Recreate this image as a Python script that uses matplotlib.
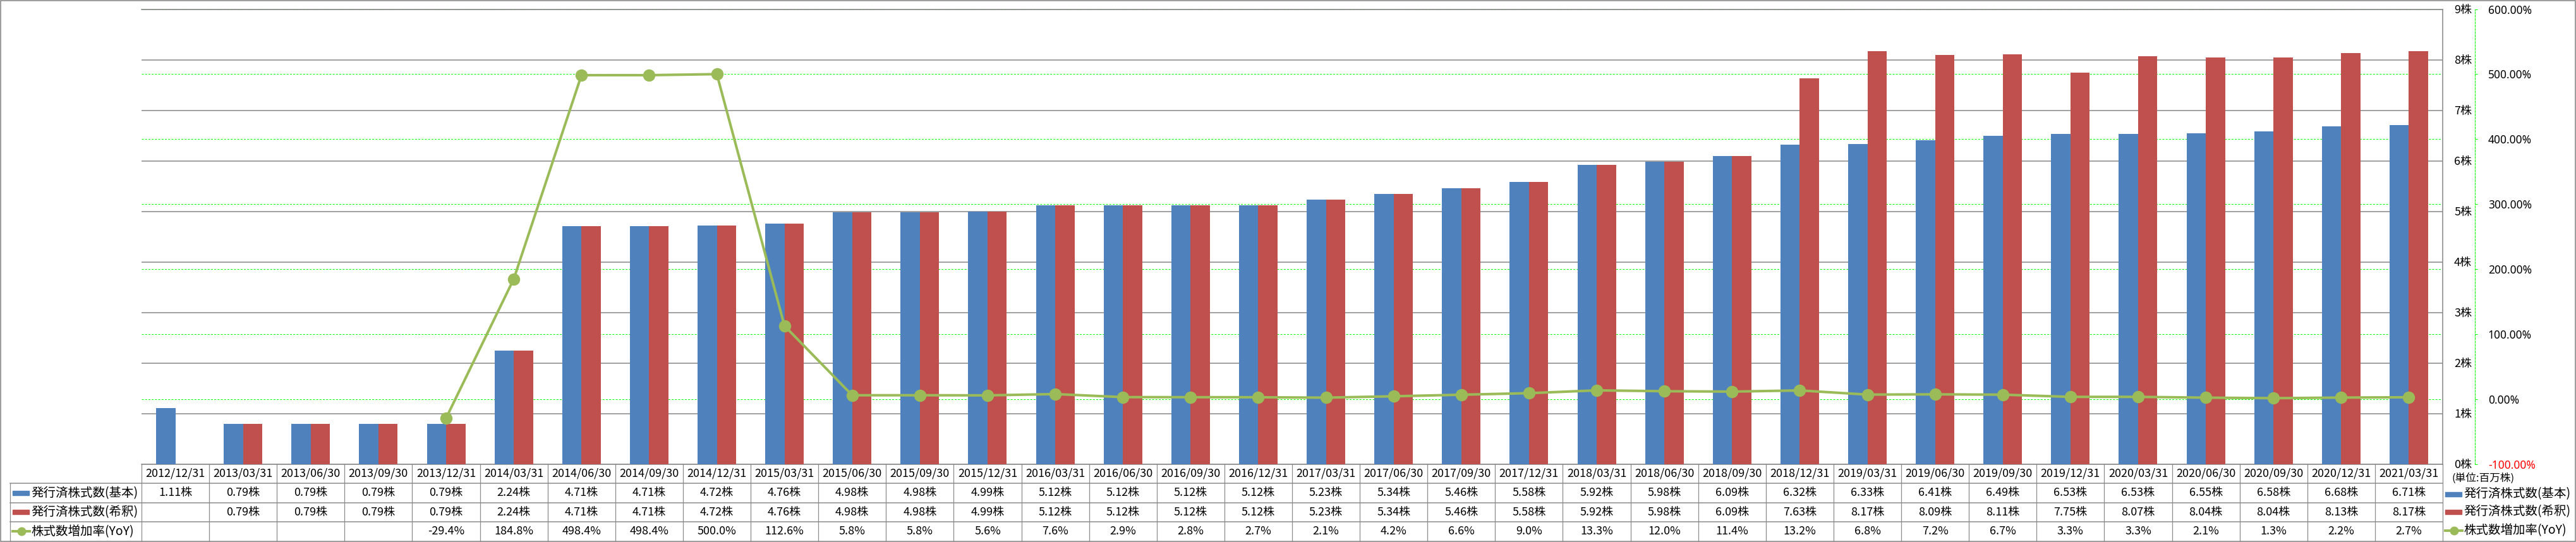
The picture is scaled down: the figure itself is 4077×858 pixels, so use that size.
import numpy as np
import matplotlib.pyplot as plt
from matplotlib.patches import Rectangle
from matplotlib.lines import Line2D

plt.rcParams['font.family'] = ['Noto Sans CJK JP', 'DejaVu Sans']

dates = ['2012/12/31', '2013/03/31', '2013/06/30', '2013/09/30', '2013/12/31',
         '2014/03/31', '2014/06/30', '2014/09/30', '2014/12/31', '2015/03/31',
         '2015/06/30', '2015/09/30', '2015/12/31', '2016/03/31', '2016/06/30',
         '2016/09/30', '2016/12/31', '2017/03/31', '2017/06/30', '2017/09/30',
         '2017/12/31', '2018/03/31', '2018/06/30', '2018/09/30', '2018/12/31',
         '2019/03/31', '2019/06/30', '2019/09/30', '2019/12/31', '2020/03/31',
         '2020/06/30', '2020/09/30', '2020/12/31', '2021/03/31']

basic = [1.11, 0.79, 0.79, 0.79, 0.79, 2.24, 4.71, 4.71, 4.72, 4.76,
         4.98, 4.98, 4.99, 5.12, 5.12, 5.12, 5.12, 5.23, 5.34, 5.46,
         5.58, 5.92, 5.98, 6.09, 6.32, 6.33, 6.41, 6.49, 6.53, 6.53,
         6.55, 6.58, 6.68, 6.71]

diluted = [np.nan, 0.79, 0.79, 0.79, 0.79, 2.24, 4.71, 4.71, 4.72, 4.76,
           4.98, 4.98, 4.99, 5.12, 5.12, 5.12, 5.12, 5.23, 5.34, 5.46,
           5.58, 5.92, 5.98, 6.09, 7.63, 8.17, 8.09, 8.11, 7.75, 8.07,
           8.04, 8.04, 8.13, 8.17]

yoy = [np.nan, np.nan, np.nan, np.nan, -29.4, 184.8, 498.4, 498.4, 500.0, 112.6,
       5.8, 5.8, 5.6, 7.6, 2.9, 2.8, 2.7, 2.1, 4.2, 6.6,
       9.0, 13.3, 12.0, 11.4, 13.2, 6.8, 7.2, 6.7, 3.3, 3.3,
       2.1, 1.3, 2.2, 2.7]

series_names = ['発行済株式数(基本)', '発行済株式数(希釈)', '株式数増加率(YoY)']
unit_label = '(単位:百万株)'

BLUE = '#4F81BD'
RED = '#C0504D'
GREEN = '#9BBB59'
GRID = '#868686'
LINE = '#8c8c8c'

W, H = 4077, 858
fig = plt.figure(figsize=(W / 100, H / 100), dpi=100)

# overlay in pixel coordinates for the frame, the data table and the legends
bg = fig.add_axes([0, 0, 1, 1], label='bg')
bg.set_xlim(0, W)
bg.set_ylim(H, 0)
bg.axis('off')

# plot area (pixels)
L, R, T, B = 224, 3866, 14.5, 734.5
rect = [L / W, 1 - B / H, (R - L) / W, (B - T) / H]
n = len(dates)
x = np.arange(n)

# green dashed grid of the percent axis (lowest layer)
axg = fig.add_axes(rect, label='grid')
axg.set_xlim(-0.5, n - 0.5)
axg.set_ylim(-100, 600)
axg.set_yticks(np.arange(-100, 700, 100))
axg.set_xticks([])
axg.tick_params(left=False, labelleft=False)
axg.grid(axis='y', color='#00FF00', linestyle=(0, (3, 2)), linewidth=0.75)
for s in axg.spines.values():
    s.set_visible(False)

# bars
axb = fig.add_axes(rect, label='bars')
axb.patch.set_visible(False)
w = 0.285
axb.bar(x - w / 2, basic, w, color=BLUE, zorder=3)
axb.bar(x + w / 2, diluted, w, color=RED, zorder=3)
axb.set_xlim(-0.5, n - 0.5)
axb.set_ylim(0, 9)
axb.set_xticks([])
axb.set_yticks(range(10), labels=[f'{i}株' for i in range(10)])
axb.yaxis.tick_right()
axb.tick_params(axis='y', length=0, pad=13, labelsize=13)
axb.grid(axis='y', color=GRID, linewidth=1.1, zorder=1)
axb.set_axisbelow(True)
axb.spines['left'].set_visible(False)
for k in ['top', 'right', 'bottom']:
    axb.spines[k].set_color(GRID)
    axb.spines[k].set_linewidth(1.1)

# YoY line on its own percent axis
axl = fig.add_axes(rect, label='line')
axl.patch.set_visible(False)
axl.plot(x, yoy, color=GREEN, linewidth=2.9, marker='o', markersize=13,
         markeredgecolor=GREEN, solid_joinstyle='round', zorder=5)
axl.set_xlim(-0.5, n - 0.5)
axl.set_ylim(-100, 600)
axl.set_xticks([])
for k in ['left', 'top', 'bottom']:
    axl.spines[k].set_visible(False)
axl.spines['right'].set_position(('axes', (3917 - L) / (R - L)))
axl.spines['right'].set_color('#00FF00')
axl.spines['right'].set_linestyle((0, (3, 2)))
axl.spines['right'].set_linewidth(0.75)
axl.yaxis.tick_right()
pticks = np.arange(-100, 700, 100)
axl.set_yticks(pticks, labels=[f'{v:.2f}%' for v in pticks],
               fontsize=12.5, fontfamily='Noto Sans')
axl.tick_params(axis='y', color='#00FF00', labelcolor='black', length=3,
                width=0.75, pad=12)
axl.get_yticklabels()[0].set_color('red')

# ---- data table ----
colw = (R - L) / n
rows = [734.5, 765, 795.5, 826, 856.5]
ycen = [(rows[i] + rows[i + 1]) / 2 for i in range(4)]

for yy in rows[1:4]:
    bg.plot([16, R], [yy, yy], color=LINE, lw=1.1)
for k in range(n + 1):
    bg.plot([L + k * colw] * 2, [rows[0], rows[4]], color=LINE, lw=0.9)
bg.plot([16, 16], [rows[1], rows[4]], color=LINE, lw=0.9)

for i in range(n):
    cx = L + (i + 0.5) * colw
    bg.text(cx, ycen[0], dates[i], ha='center', va='center', fontsize=13)
    bg.text(cx, ycen[1], f'{basic[i]:.2f}株', ha='center', va='center', fontsize=13)
    if not np.isnan(diluted[i]):
        bg.text(cx, ycen[2], f'{diluted[i]:.2f}株', ha='center', va='center', fontsize=13)
    if not np.isnan(yoy[i]):
        bg.text(cx, ycen[3], f'{yoy[i]:.1f}%', ha='center', va='center', fontsize=13)


def legend_item(x0, yc, kind, name):
    if kind == 'line':
        bg.add_line(Line2D([x0, x0 + 27], [yc, yc], color=GREEN, lw=2.9))
        bg.plot([x0 + 13.5], [yc], marker='o', ms=9, color=GREEN)
    else:
        bg.add_patch(Rectangle((x0, yc - 3.5), 26, 7, color=kind))
    bg.text(x0 + 29, yc, name, ha='left', va='center', fontsize=14)


kinds = [BLUE, RED, 'line']
for r in range(3):
    legend_item(20, ycen[r + 1], kinds[r], series_names[r])

# right side legend
bg.text(3880, 757, unit_label, ha='left', va='center', fontsize=12)
for r, yc in enumerate([782, 810, 840]):
    legend_item(3870, yc, kinds[r], series_names[r])

# outer frame
bg.add_patch(Rectangle((0.5, 1), W - 1.5, 855.5, fill=False, edgecolor=LINE, lw=1.2))

fig.savefig('out.png', dpi=100)
